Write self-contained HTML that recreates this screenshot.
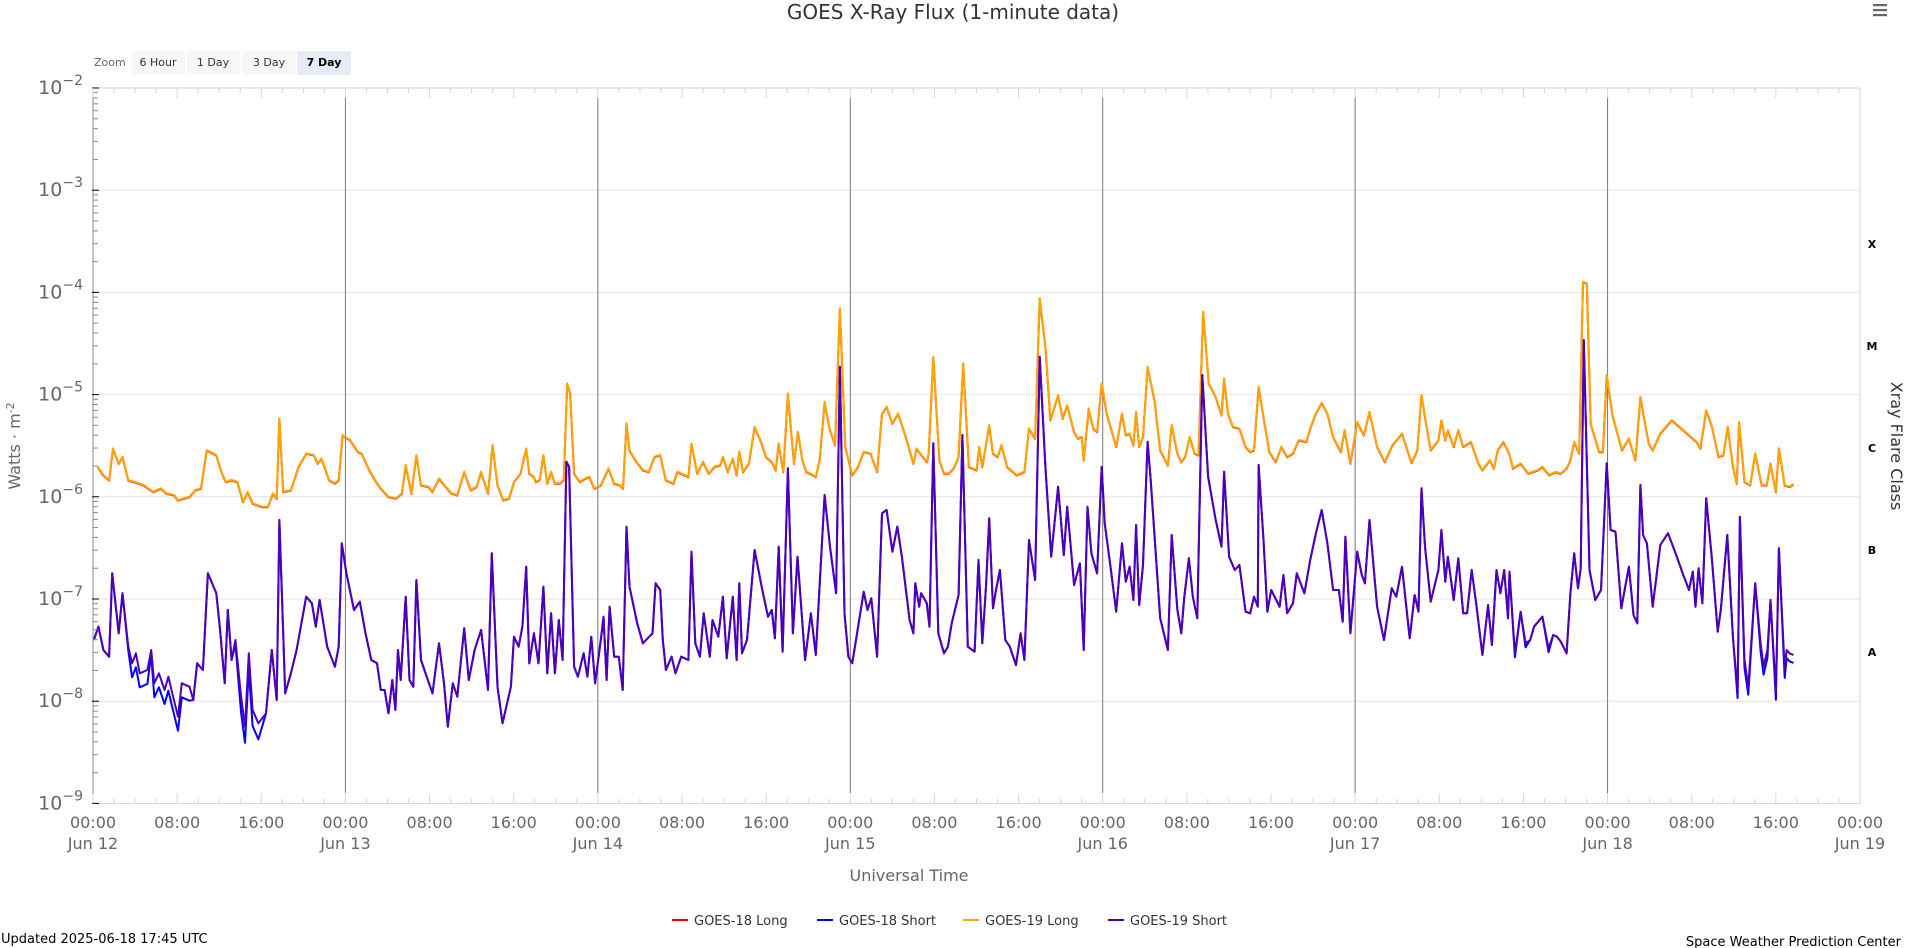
<!DOCTYPE html><html><head><meta charset="utf-8"><style>
body{margin:0;background:#fff;width:1906px;height:948px;overflow:hidden;font-family:"DejaVu Sans","Liberation Sans",sans-serif}
svg{position:absolute;left:0;top:0}
</style></head><body>
<svg id="s" width="1906" height="948" xmlns="http://www.w3.org/2000/svg" font-family="DejaVu Sans, Liberation Sans, sans-serif">
<text x="953" y="19" text-anchor="middle" font-size="20" fill="#333">GOES X-Ray Flux (1-minute data)</text>
<g fill="#666"><rect x="1873" y="4" width="14" height="2.2"/><rect x="1873" y="9" width="14" height="2.2"/><rect x="1873" y="14" width="14" height="2.2"/></g>
<text x="94" y="66" font-size="11" fill="#666">Zoom</text>
<rect x="132" y="51" width="53" height="24" rx="2" fill="#f7f7f7"/><text x="158" y="66" font-size="11" text-anchor="middle" fill="#333">6 Hour</text>
<rect x="187" y="51" width="53" height="24" rx="2" fill="#f7f7f7"/><text x="213" y="66" font-size="11" text-anchor="middle" fill="#333">1 Day</text>
<rect x="242" y="51" width="54" height="24" rx="2" fill="#f7f7f7"/><text x="269" y="66" font-size="11" text-anchor="middle" fill="#333">3 Day</text>
<rect x="297" y="51" width="54" height="24" rx="2" fill="#e6ebf5"/><text x="324" y="66" font-size="11" text-anchor="middle" font-weight="bold" fill="#000">7 Day</text>
<g id="grid"></g>
<g id="series" fill="none" stroke-width="2" stroke-linejoin="round"></g>
<g id="axes"></g>
<text x="909" y="881" text-anchor="middle" font-size="16" fill="#666">Universal Time</text>
<text transform="translate(20,446) rotate(-90)" text-anchor="middle" font-size="16" fill="#666">Watts · m<tspan dy="-6" font-size="11">-2</tspan></text>
<text transform="translate(1891,446) rotate(90)" text-anchor="middle" font-size="16" fill="#333">Xray Flare Class</text>
<g font-size="11" fill="#000" font-weight="bold" text-anchor="middle">
<text x="1872" y="248">X</text><text x="1872" y="350">M</text><text x="1872" y="452">C</text><text x="1872" y="554">B</text><text x="1872" y="656">A</text></g>
<g font-size="13" fill="#333">
<line x1="672" y1="920" x2="688" y2="920" stroke="#ff0000" stroke-width="2"/><text x="694" y="925">GOES-18 Long</text>
<line x1="817" y1="920" x2="833" y2="920" stroke="#0000ff" stroke-width="2"/><text x="839" y="925">GOES-18 Short</text>
<line x1="963" y1="920" x2="979" y2="920" stroke="#ffa500" stroke-width="2"/><text x="985" y="925">GOES-19 Long</text>
<line x1="1108" y1="920" x2="1124" y2="920" stroke="#5000b4" stroke-width="2"/><text x="1130" y="925">GOES-19 Short</text>
</g>
<text x="1" y="943" font-size="13" fill="#000">Updated 2025-06-18 17:45 UTC</text>
<text x="1901" y="946" font-size="13" fill="#000" text-anchor="end">Space Weather Prediction Center</text>
</svg>
<script>
var L=93,R=1860,T=88,B=803.4,D=(B-T)/7,DW=(R-L)/7;
function X(t){return L+t/24*DW}
var ns="http://www.w3.org/2000/svg";
function el(p,tag,a,txt){var e=document.createElementNS(ns,tag);for(var k in a)e.setAttribute(k,a[k]);if(txt!=null)e.textContent=txt;p.appendChild(e);return e}
var g=document.getElementById('grid'),ax=document.getElementById('axes');
el(g,'rect',{x:L,y:T,width:R-L,height:B-T,fill:'none',stroke:'#ccd6eb'});
for(var k=1;k<7;k++){el(g,'line',{x1:L,x2:R,y1:T+k*D,y2:T+k*D,stroke:'#e6e6e6'})}
for(var d=1;d<7;d++){el(g,'line',{x1:X(d*24),x2:X(d*24),y1:98,y2:793,stroke:'#777'})}
el(ax,'line',{x1:L,x2:L,y1:T,y2:B,stroke:'#888'});
for(var k=0;k<8;k++){var y=T+k*D;el(ax,'line',{x1:L-1,x2:L+6,y1:y,y2:y,stroke:'#000'});
 var t=el(ax,'text',{x:L-10,y:y+6,'text-anchor':'end','font-size':'19',fill:'#666'});t.textContent='10';el(t,'tspan',{dy:-9,'font-size':'14'},'\u2212'+(2+k));
 if(k<7)for(var m=2;m<10;m++){var yy=T+(k+1)*D-Math.log10(m)*D;el(ax,'line',{x1:L,x2:L+5,y1:yy,y2:yy,stroke:'#888'})}}
var days=['Jun 12','Jun 13','Jun 14','Jun 15','Jun 16','Jun 17','Jun 18','Jun 19'];
for(var h=0;h<=168;h+=2){var x=X(h),maj=h%8==0;
 el(ax,'line',{x1:x,x2:x,y1:B,y2:B-(maj?10:5),stroke:'#ccd6eb'});el(ax,'line',{x1:x,x2:x,y1:T,y2:T+(maj?10:5),stroke:'#ccd6eb'});
 if(maj){var hh=h%24;el(ax,'text',{x:x,y:828,'text-anchor':'middle','font-size':'16',fill:'#666'},(hh<10?'0':'')+hh+':00');
 if(hh==0)el(ax,'text',{x:x,y:849,'text-anchor':'middle','font-size':'16',fill:'#666'},days[h/24]);}}
var SX=1568/600;
function conv(arr,ox,oy,lo,hi){var o=[];for(var i=0;i<arr.length;i+=2){var x=ox+arr[i]/SX;if(x<lo||x>=hi)continue;o.push([x,oy+arr[i+1]/3])}return o}
var P1=[10,1080,22,1040,35,1110,50,1130,58,880,75,1060,85,940,100,1100,110,1150,120,1120,130,1180,150,1170,160,1110,168,1210,180,1180,195,1230,205,1190,215,1240,230,1310,240,1210,260,1220,270,1260,280,1150,295,1170,308,880,330,940,340,1050,352,1210,360,990,370,1140,380,1080,395,1250,405,1340,415,1120,425,1290,440,1330,460,1300,475,1110,488,1260,495,720,510,1240,525,1180,540,1110,565,950,580,970,590,1040,600,960,620,1100,640,1160,650,1100,658,790,670,880,690,990,705,965,720,1060,735,1140,750,1150,760,1230,770,1230,780,1300,790,1200,798,1290,805,1110,812,1200,825,950,835,1200,845,1220,853,900,865,1140,880,1190,895,1240,912,1090,925,1210,935,1340,948,1210,960,1250,978,1045,990,1200,1005,1110,1022,1050,1040,1230,1050,820,1065,1220,1078,1330,1100,1220,1108,1070,1120,1100,1130,1040,1140,860,1148,1150,1160,1060,1172,1150,1185,920,1195,1180,1205,1000,1215,1180,1225,1020,1235,1140,1245,545,1252,560,1265,1160,1275,1190,1290,1120,1300,1190,1310,1070,1320,1210,1335,1080,1342,1010,1350,1200,1358,980,1370,1130,1382,1130,1392,1230,1402,740,1410,920,1430,1030,1445,1090,1470,1060,1478,910,1490,930,1497,1080,1505,1170,1520,1130,1530,1180,1545,1130,1555,1170,1566,870];
var P2=[0,1040,12,1165,22,1140,30,815,40,1090,52,1130,62,1000,78,1130,85,1020,100,1070,112,950,122,1135,138,950,148,1140,155,910,162,1120,175,1080,195,810,215,930,230,1010,240,990,248,1075,258,800,268,1115,282,565,295,1060,307,830,327,1140,342,1000,355,1125,378,645,392,800,408,940,418,260,430,1000,440,1130,450,1150,460,1080,480,935,490,990,500,955,515,1130,528,700,540,690,555,815,568,740,580,830,600,1020,610,1060,615,910,625,980,630,940,645,970,652,1040,662,490,675,1060,690,1120,700,1100,710,1030,728,945,738,465,752,1100,770,1115,780,840,790,1090,800,915,808,715,818,985,825,935,836,870,850,1080,862,1100,878,1155,890,1060,900,1140,912,780,928,900,940,230,955,560,970,830,988,620,1003,825,1012,680,1030,915,1045,850,1055,1110,1065,680,1075,820,1090,880,1102,560,1110,730,1125,860,1140,995,1155,790,1165,905,1175,860,1185,960,1192,735,1200,975,1210,855,1222,485,1230,600,1255,1015,1275,1110,1285,765,1300,990,1310,1060,1318,950,1330,835,1340,950,1352,1015,1365,285,1380,590,1400,720,1415,800,1422,575,1435,830,1450,870,1462,855,1478,995,1490,1000,1500,950,1510,980,1512,555,1525,780,1535,995,1545,930,1555,1050,1568,970];
var P3=[0,990,12,1110,25,1040,35,945,45,1060,60,1030,70,940,90,1000,105,900,120,820,135,750,150,850,165,990,180,990,190,1085,197,830,210,1120,228,875,240,945,248,970,260,780,280,1040,298,1140,318,985,330,1010,345,920,365,1135,378,1005,388,1055,396,685,405,860,420,1025,440,930,448,810,458,965,465,890,480,1020,492,895,505,1060,515,1060,527,930,540,1040,555,1185,570,1035,580,1155,592,930,602,1000,612,930,622,1075,626,935,640,1180,655,1055,668,1150,680,1140,690,1100,712,1070,728,1165,740,1125,750,1130,760,1145,775,1180,785,1000,795,880,805,985,812,925,820,240,835,930,850,1020,865,990,880,610,890,810,903,815,918,1045,938,920,950,1065,960,1090,968,675,975,825,985,850,1000,1040,1020,855,1040,820,1060,880,1080,945,1095,990,1105,935,1112,1040,1120,925,1130,1030,1140,715,1155,900,1170,1115,1178,1050,1195,825,1210,1135,1222,1290,1228,770,1240,1200,1250,1280,1268,970,1282,1150,1290,1220,1300,1170,1308,1020,1322,1295,1330,865,1345,1230,1350,1170,1358,1180,1368,1185];
var O1=[0,570,20,560,35,585,50,600,60,505,75,550,85,530,100,600,115,605,140,615,165,635,185,625,200,640,220,645,230,660,260,650,275,630,290,625,305,510,330,525,345,580,355,605,370,600,385,605,400,665,412,635,425,670,450,680,465,680,478,640,488,655,495,415,505,635,525,630,545,560,565,520,585,525,595,550,605,535,625,600,640,610,650,600,660,465,680,480,700,515,710,520,730,570,745,600,760,625,780,650,800,655,815,640,825,555,840,640,853,525,865,615,885,620,895,635,912,595,930,620,945,640,960,645,978,575,995,630,1010,620,1022,575,1040,640,1052,495,1065,615,1080,660,1095,655,1108,605,1125,580,1140,505,1148,580,1160,590,1165,605,1175,600,1185,525,1195,610,1205,575,1215,610,1228,610,1238,600,1247,310,1255,340,1265,580,1280,605,1295,595,1305,590,1318,625,1335,615,1345,590,1355,565,1370,610,1385,615,1393,625,1402,430,1410,510,1425,540,1445,570,1460,575,1475,530,1490,525,1505,600,1525,610,1535,575,1560,600,1566,520];
var O2=[0,575,12,600,22,590,30,490,45,580,60,545,75,580,90,560,105,555,112,530,125,575,138,535,148,585,155,515,165,575,180,550,195,440,210,480,225,530,240,545,250,570,258,490,270,575,282,340,298,550,308,455,320,540,330,575,340,580,355,590,365,540,378,365,390,440,405,495,418,85,432,500,450,585,465,560,480,515,498,520,515,575,528,400,540,380,555,430,570,400,590,470,610,550,618,505,628,520,645,545,650,520,662,230,678,540,690,580,702,580,715,565,728,530,740,250,755,560,775,570,782,500,790,560,798,505,808,435,818,520,830,530,840,495,855,560,880,585,900,575,912,445,928,475,940,55,955,200,968,420,988,345,1000,415,1012,375,1030,455,1040,475,1050,470,1055,540,1068,385,1080,445,1090,455,1102,310,1115,400,1140,500,1155,400,1165,465,1175,460,1185,495,1192,395,1200,500,1210,470,1222,260,1240,360,1255,510,1275,555,1285,435,1300,520,1310,545,1320,530,1332,470,1345,520,1355,525,1367,95,1382,310,1400,350,1415,405,1422,295,1432,400,1445,440,1462,445,1478,500,1490,515,1500,510,1512,320,1525,410,1540,515,1555,545,1568,535];
var O3=[0,570,15,605,30,560,45,590,60,580,75,540,95,545,105,505,120,460,135,428,150,460,165,530,185,575,195,510,210,610,228,485,245,525,260,455,280,560,300,605,320,555,345,520,370,608,385,570,396,405,408,490,420,570,440,540,448,480,458,540,465,510,480,560,492,510,505,560,525,545,545,610,555,630,575,600,585,625,595,570,610,545,625,580,635,625,655,610,675,640,700,630,712,620,730,645,745,635,760,640,775,625,785,600,795,545,808,580,818,65,828,70,838,490,860,575,870,575,880,345,895,465,920,570,938,535,955,600,968,410,978,475,990,550,1000,570,1020,520,1050,480,1080,510,1100,530,1115,545,1125,565,1140,450,1155,500,1172,590,1185,585,1196,500,1210,620,1220,670,1226,485,1240,665,1255,675,1268,580,1285,675,1298,675,1308,610,1322,695,1330,565,1345,675,1358,680,1368,672];
var purple=conv(P1,90,280,93,685).concat(conv(P2,680,280,685,1275),conv(P3,1270,260,1275,9999));
var orange=conv(O1,90,280,93,685).concat(conv(O2,680,280,685,1275),conv(O3,1270,260,1275,9999));
var blue=purple.map(function(p){var x=p[0],y=p[1],off=0;
 if(x>125&&x<190)off=(y>650?14:4);if(x>232&&x<262)off=(y>650?16:4);
 if(x>1500&&x<1560&&y>640)off=4;if(x>1720&&y>640)off=8;return [x,y+off]});
var red=orange.map(function(p){return [p[0],p[1]+0.5]});
function path(a,c){var d='';for(var i=0;i<a.length;i++)d+=(i?'L':'M')+a[i][0].toFixed(1)+','+a[i][1].toFixed(1);el(document.getElementById('series'),'path',{d:d,stroke:c})}
path(red,'#ff0000');path(orange,'#ffa500');path(blue,'#0000ff');path(purple,'#5000b4');
</script>
</body></html>
